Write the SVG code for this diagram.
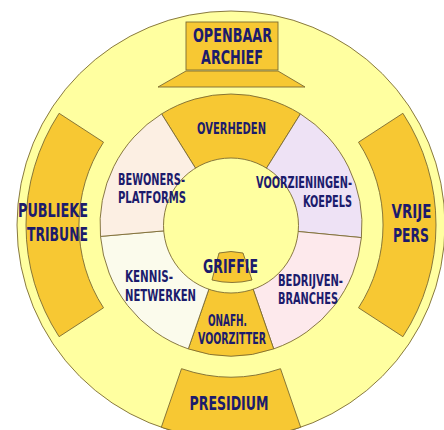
<svg xmlns="http://www.w3.org/2000/svg" width="444" height="430" viewBox="0 0 444 430">
<style>
.ln{stroke:#7a6a32;stroke-width:0.9}
.or{fill:#f7c833}
.t{font-family:"Liberation Sans Narrow","DejaVu Sans Condensed","Liberation Sans",sans-serif;font-weight:bold;fill:#1c1b6c}
.s{font-size:16px}
.b{font-size:20px}
</style>
<rect width="444" height="430" fill="#ffffff"/>
<g id="background">
<circle class="ln" cx="231" cy="225" r="214" fill="#ffffa0"/>
</g>
<g id="openbaar-archief">
<rect class="ln or" x="186" y="22" width="92" height="48"/>
<path class="ln or" d="M186,71 L278,71 L305,87 L158,87 Z"/>
<text class="t b" x="193" y="42" textLength="79" lengthAdjust="spacingAndGlyphs">OPENBAAR</text>
<text class="t b" x="201" y="64" textLength="62" lengthAdjust="spacingAndGlyphs">ARCHIEF</text>
</g>
<g id="publieke-tribune">
<path class="ln or" d="M59.1,336.7 A205,205 0 0 1 59.1,113.3 L103.5,142.2 A152,152 0 0 0 103.5,307.8 Z"/>
<text class="t b" x="18" y="217" textLength="70" lengthAdjust="spacingAndGlyphs">PUBLIEKE</text>
<text class="t b" x="27" y="241" textLength="61" lengthAdjust="spacingAndGlyphs">TRIBUNE</text>
</g>
<g id="vrije-pers">
<path class="ln or" d="M402.9,113.3 A205,205 0 0 1 402.9,336.7 L358.5,307.8 A152,152 0 0 0 358.5,142.2 Z"/>
<text class="t b" x="391.5" y="218" textLength="40" lengthAdjust="spacingAndGlyphs">VRIJE</text>
<text class="t b" x="393" y="242" textLength="36" lengthAdjust="spacingAndGlyphs">PERS</text>
</g>
<g id="presidium">
<path class="ln or" d="M181.5,368.7 A152,152 0 0 0 280.5,368.7 L300.7,427.3 A214,214 0 0 1 161.3,427.3 Z"/>
<text class="t b" x="189.5" y="410" textLength="79" lengthAdjust="spacingAndGlyphs">PRESIDIUM</text>
</g>
<g id="overheden">
<path class="ln or" d="M231,225 L161.6,113.9 A131,131 0 0 1 300.4,113.9 Z"/>
<text class="t s" x="197" y="134" textLength="69" lengthAdjust="spacingAndGlyphs">OVERHEDEN</text>
</g>
<g id="voorzieningen-koepels">
<path class="ln" fill="#eee2f5" d="M231,225 L300.4,113.9 A131,131 0 0 1 361.4,237.6 Z"/>
</g>
<g id="bedrijven-branches">
<path class="ln" fill="#fde9ec" d="M231,225 L361.4,237.6 A131,131 0 0 1 273.7,348.9 Z"/>
</g>
<g id="onafh-voorzitter">
<path class="ln or" d="M231,225 L273.7,348.9 A131,131 0 0 1 188.3,348.9 Z"/>
</g>
<g id="kennis-netwerken">
<path class="ln" fill="#fbfbec" d="M231,225 L188.3,348.9 A131,131 0 0 1 100.5,236.4 Z"/>
</g>
<g id="bewoners-platforms">
<path class="ln" fill="#fcefe3" d="M231,225 L100.5,236.4 A131,131 0 0 1 161.6,113.9 Z"/>
</g>
<g id="griffie">
<circle class="ln" cx="231" cy="225.5" r="67.5" fill="#ffffa0"/>
<path class="ln or" d="M219,253 Q231,250 243,253 L252,280 Q232,285 212,280 Z"/>
<text class="t" font-size="19" x="203" y="273" textLength="55" lengthAdjust="spacingAndGlyphs">GRIFFIE</text>
</g>
<g id="labels">
<text class="t s" x="118" y="185" textLength="67" lengthAdjust="spacingAndGlyphs">BEWONERS-</text>
<text class="t s" x="118" y="203" textLength="68" lengthAdjust="spacingAndGlyphs">PLATFORMS</text>
<text class="t s" x="256" y="188" textLength="96" lengthAdjust="spacingAndGlyphs">VOORZIENINGEN-</text>
<text class="t s" x="303" y="207" textLength="49" lengthAdjust="spacingAndGlyphs">KOEPELS</text>
<text class="t s" x="125" y="282" textLength="48" lengthAdjust="spacingAndGlyphs">KENNIS-</text>
<text class="t s" x="125" y="301" textLength="71" lengthAdjust="spacingAndGlyphs">NETWERKEN</text>
<text class="t s" x="278" y="286" textLength="65" lengthAdjust="spacingAndGlyphs">BEDRIJVEN-</text>
<text class="t s" x="278" y="304" textLength="60" lengthAdjust="spacingAndGlyphs">BRANCHES</text>
<text class="t" font-size="15" x="208" y="326" textLength="39" lengthAdjust="spacingAndGlyphs">ONAFH.</text>
<text class="t" font-size="15" x="198" y="344" textLength="68" lengthAdjust="spacingAndGlyphs">VOORZITTER</text>
</g>
</svg>
